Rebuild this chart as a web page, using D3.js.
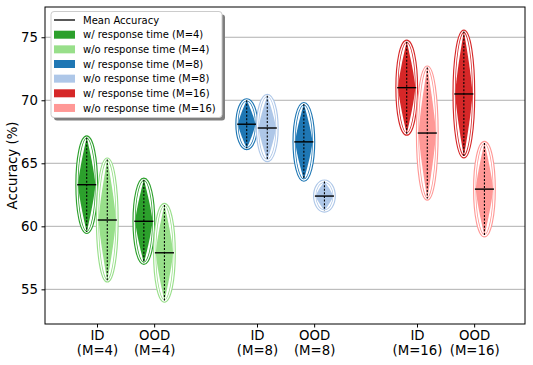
<!DOCTYPE html>
<html>
<head>
<meta charset="utf-8">
<script src="https://cdn.jsdelivr.net/npm/d3@7"></script>
<style>
  body { margin: 0; background: #fff; }
  text { font-family: "DejaVu Sans", sans-serif; }
</style>
</head>
<body>
<div class="chart"></div>
<script>
// data
const categories = [["ID", "(M=4)"], ["OOD", "(M=4)"], ["ID", "(M=8)"], ["OOD", "(M=8)"], ["ID", "(M=16)"], ["OOD", "(M=16)"]];
const positions = [0, 1, 2.8, 3.8, 5.6, 6.6];
const withMean = [63.3, 60.4, 68.1, 66.7, 71.0, 70.5];
const withSpread = [3.75, 3.3, 1.9, 3.0, 3.65, 4.95];
const withoutMean = [60.5, 57.9, 67.8, 62.4, 67.4, 62.95];
const withoutSpread = [4.8, 3.8, 2.55, 1.15, 5.2, 3.67];
const darkColors = ["#2ca02c", "#2ca02c", "#1f77b4", "#1f77b4", "#d62728", "#d62728"];
const lightColors = ["#98df8a", "#98df8a", "#aec7e8", "#aec7e8", "#ff9896", "#ff9896"];
const yTicks = [55, 60, 65, 70, 75];
const legendLabels = ["w/ response time (M=4)", "w/o response time (M=4)", "w/ response time (M=8)",
  "w/o response time (M=8)", "w/ response time (M=16)", "w/o response time (M=16)"];
const legendColors = ["#2ca02c", "#98df8a", "#1f77b4", "#aec7e8", "#d62728", "#ff9896"];

const W = 533, H = 365;
const margin = {left: 45, right: 8, top: 7, bottom: 41};

let svg = d3.select(".chart").append("svg")
  .attr("width", W).attr("height", H);

let x = d3.scaleLinear().domain([-0.91, 7.49]).range([margin.left, W - margin.right]);
let y = d3.scaleLinear().domain([52.25, 77.4]).range([H - margin.bottom, margin.top]);

// grid
svg.append("g").selectAll("line").data(yTicks).enter().append("line")
  .attr("x1", x.range()[0]).attr("x2", x.range()[1])
  .attr("y1", d => y(d)).attr("y2", d => y(d))
  .attr("stroke", "#b0b0b0").attr("stroke-width", 1);

// build violins
let violins = [];
positions.forEach(function(p, i) {
  violins.push({pos: p - 0.18, mean: withMean[i], spread: withSpread[i], color: darkColors[i]});
  violins.push({pos: p + 0.18, mean: withoutMean[i], spread: withoutSpread[i], color: lightColors[i]});
});

const halfW = 0.15, ellRx = 0.172, meanHalf = 0.167;
const ts = d3.range(-1, 1.0001, 0.05);

let vg = svg.append("g").selectAll("g").data(violins).enter().append("g");

// ellipse outline (double ring look)
vg.append("ellipse")
  .attr("cx", d => x(d.pos)).attr("cy", d => y(d.mean))
  .attr("rx", d => x(d.pos + ellRx) - x(d.pos))
  .attr("ry", d => y(d.mean) - y(d.mean + d.spread) + 0.5)
  .attr("fill", "white").attr("stroke", d => d.color).attr("stroke-width", 3.2);
vg.append("ellipse")
  .attr("cx", d => x(d.pos)).attr("cy", d => y(d.mean))
  .attr("rx", d => x(d.pos + ellRx) - x(d.pos) - 0.2)
  .attr("ry", d => y(d.mean) - y(d.mean + d.spread) + 0.3)
  .attr("fill", "none").attr("stroke", "white").attr("stroke-width", 1.3);

// violin body
vg.append("path")
  .attr("fill", d => d.color)
  .attr("d", function(d) {
    let area = d3.area()
      .x0(t => x(d.pos - halfW * (1 - Math.pow(Math.abs(t), 1.3))))
      .x1(t => x(d.pos + halfW * (1 - Math.pow(Math.abs(t), 1.3))))
      .y(t => y(d.mean + t * d.spread));
    return area(ts);
  });

// dashed center line
vg.append("line")
  .attr("x1", d => x(d.pos)).attr("x2", d => x(d.pos))
  .attr("y1", d => y(d.mean + d.spread)).attr("y2", d => y(d.mean - d.spread))
  .attr("stroke", "black").attr("stroke-width", 1.1).attr("stroke-dasharray", "2,1.6");

// mean line
vg.append("line")
  .attr("x1", d => x(d.pos - meanHalf)).attr("x2", d => x(d.pos + meanHalf))
  .attr("y1", d => y(d.mean)).attr("y2", d => y(d.mean))
  .attr("stroke", "black").attr("stroke-width", 1.4);

// frame
svg.append("rect")
  .attr("x", margin.left).attr("y", margin.top)
  .attr("width", W - margin.left - margin.right).attr("height", H - margin.top - margin.bottom)
  .attr("fill", "none").attr("stroke", "black").attr("stroke-width", 1);

// axes
let yAxis = svg.append("g")
  .attr("transform", "translate(" + margin.left + ",0)")
  .call(d3.axisLeft(y).tickValues(yTicks).tickSize(3.5).tickPadding(3.5));
yAxis.select(".domain").remove();
yAxis.selectAll("text").attr("font-size", 13.3).attr("font-family", "DejaVu Sans").attr("fill", "black");

let xAxis = svg.append("g")
  .attr("transform", "translate(0," + (H - margin.bottom) + ")")
  .call(d3.axisBottom(x).tickValues(positions).tickSize(3.5).tickFormat(""));
xAxis.select(".domain").remove();
xAxis.selectAll(".tick").each(function(d, i) {
  let t = d3.select(this).append("text")
    .attr("fill", "black").attr("font-size", 13.3).attr("text-anchor", "middle");
  t.append("tspan").attr("x", 0).attr("y", 15.5).text(categories[i][0]);
  t.append("tspan").attr("x", 0).attr("y", 31).text(categories[i][1]);
});

svg.append("text")
  .attr("transform", "translate(17," + ((margin.top + H - margin.bottom) / 2) + ") rotate(-90)")
  .attr("text-anchor", "middle").attr("font-size", 13.3).text("Accuracy (%)");

// legend
let lg = svg.append("g").attr("transform", "translate(51,11.5)");
lg.append("rect").attr("x", 3).attr("y", 3).attr("width", 171).attr("height", 106)
  .attr("rx", 3).attr("fill", "#7f7f7f");
lg.append("rect").attr("width", 171).attr("height", 106)
  .attr("rx", 3).attr("fill", "white").attr("stroke", "#cccccc").attr("stroke-width", 1);
lg.append("line").attr("x1", 3).attr("x2", 24).attr("y1", 8.5).attr("y2", 8.5)
  .attr("stroke", "#222").attr("stroke-width", 1.5);
lg.append("text").attr("x", 32).attr("y", 12).attr("font-size", 10).text("Mean Accuracy");
let rows = lg.selectAll(".row").data(legendLabels).enter().append("g")
  .attr("transform", (d, i) => "translate(0," + (23.2 + i * 14.65) + ")");
rows.append("rect").attr("x", 3).attr("y", -4).attr("width", 21).attr("height", 8)
  .attr("fill", (d, i) => legendColors[i]);
rows.append("text").attr("x", 32).attr("y", 3.6).attr("font-size", 10).text(d => d);
</script>
</body>
</html>
